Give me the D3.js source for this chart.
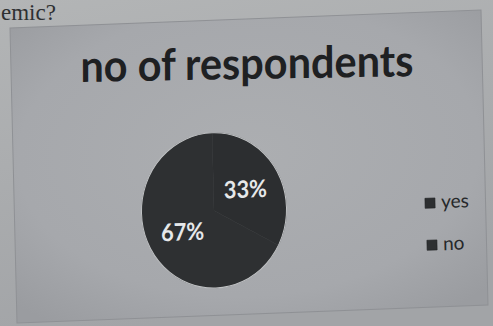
<!DOCTYPE html>
<html>
<head>
<meta charset="utf-8">
<script src="https://cdn.jsdelivr.net/npm/d3@7"></script>
<style>
  html, body { margin: 0; padding: 0; background: #abadaf; }
  svg { display: block; }
</style>
</head>
<body>
<svg id="chart" width="493" height="326"></svg>
<script>
// Survey answers: share of respondents
const categories = ["yes", "no"];
const values = [33, 67];
const valueLabels = ["33%", "67%"];
const chartTitle = "no of respondents";
const questionTail = "emic?";

const width = 493, height = 326;
const svg = d3.select("#chart");
const defs = svg.append("defs");

// paper background, lighter toward the top
const bgGrad = defs.append("linearGradient").attr("id", "paper")
  .attr("x1", 0).attr("y1", 0).attr("x2", 0.3).attr("y2", 1);
bgGrad.append("stop").attr("offset", 0).attr("stop-color", "#b3b5b6");
bgGrad.append("stop").attr("offset", 1).attr("stop-color", "#a2a4a7");
svg.append("rect").attr("width", width).attr("height", height).attr("fill", "url(#paper)");

// chart area shading
const areaGrad = defs.append("radialGradient").attr("id", "area")
  .attr("cx", 0.5).attr("cy", 0.45).attr("r", 0.7);
areaGrad.append("stop").attr("offset", 0).attr("stop-color", "#acaeb1");
areaGrad.append("stop").attr("offset", 0.7).attr("stop-color", "#a6a8ac");
areaGrad.append("stop").attr("offset", 1).attr("stop-color", "#9a9ca0");

// text of the question above the chart
svg.append("text")
  .attr("x", 1).attr("y", 20)
  .attr("font-family", "'Liberation Serif', 'Times New Roman', serif")
  .attr("font-size", 23)
  .attr("fill", "#2e3032")
  .text(questionTail);

// the chart sheet, slightly tilted on the page
const W = 471, H = 295;
const g = svg.append("g")
  .attr("transform", "matrix(1,-0.0382,0.0237,1,10,28)");

g.append("rect")
  .attr("width", W).attr("height", H)
  .attr("fill", "url(#area)")
  .attr("stroke", "#8f9195").attr("stroke-width", 1);

g.append("text")
  .attr("transform", `translate(${W / 2},60) rotate(1.2)`)
  .attr("text-anchor", "middle")
  .attr("font-family", "Lato, 'Open Sans', sans-serif")
  .attr("font-weight", 700)
  .attr("font-size", 44)
  .attr("textLength", 333)
  .attr("lengthAdjust", "spacingAndGlyphs")
  .attr("fill", "#1e2022")
  .text(chartTitle);

// pie
const r = 72.5;
const color = d3.scaleOrdinal().domain(categories).range(["#2c2e30", "#2e3032"]);
const pie = d3.pie().sort(null).value(d => d.value);
const data = pie(categories.map((c, i) => ({ cat: c, value: values[i], label: valueLabels[i] })));
const arc = d3.arc().innerRadius(0).outerRadius(r);
const labelArc = d3.arc().innerRadius(r * 0.51).outerRadius(r * 0.51);

const pg = g.append("g").attr("transform", "translate(199.5,190) scale(1,1.07)");
pg.selectAll("path.slice").data(data).join("path")
  .attr("class", "slice")
  .attr("d", arc)
  .attr("fill", d => color(d.data.cat))
  .attr("stroke", d => color(d.data.cat)).attr("stroke-width", 0.5);

// light rim around the whole pie
pg.append("circle")
  .attr("r", r)
  .attr("fill", "none")
  .attr("stroke", "#bfc1c3").attr("stroke-width", 1);

pg.selectAll("text.val").data(data).join("text")
  .attr("class", "val")
  .attr("transform", d => { const [x, y] = labelArc.centroid(d); return `translate(${x},${y}) scale(1,${1 / 1.07})`; })
  .attr("text-anchor", "middle")
  .attr("dy", "0.36em")
  .attr("font-family", "Lato, 'Open Sans', sans-serif")
  .attr("font-weight", 700)
  .attr("font-size", 24)
  .attr("textLength", 43)
  .attr("lengthAdjust", "spacingAndGlyphs")
  .attr("fill", "#e6e8ea")
  .text(d => d.data.label);

// legend
const legendY = d3.scalePoint().domain(categories).range([191, 233]);
const lg = g.append("g");
const items = lg.selectAll("g.item").data(categories).join("g")
  .attr("class", "item")
  .attr("transform", (c, i) => `translate(${410.5 + i},${legendY(c)})`);
items.append("rect")
  .attr("x", 0).attr("y", -5).attr("width", 10).attr("height", 10)
  .attr("fill", c => color(c))
  .attr("stroke", "#1f2123").attr("stroke-width", 0.6);
items.append("text")
  .attr("x", 16).attr("y", 5.5)
  .attr("font-family", "Lato, 'Open Sans', sans-serif")
  .attr("font-size", 19)
  .attr("fill", "#26282a")
  .text(c => c);
</script>
</body>
</html>
